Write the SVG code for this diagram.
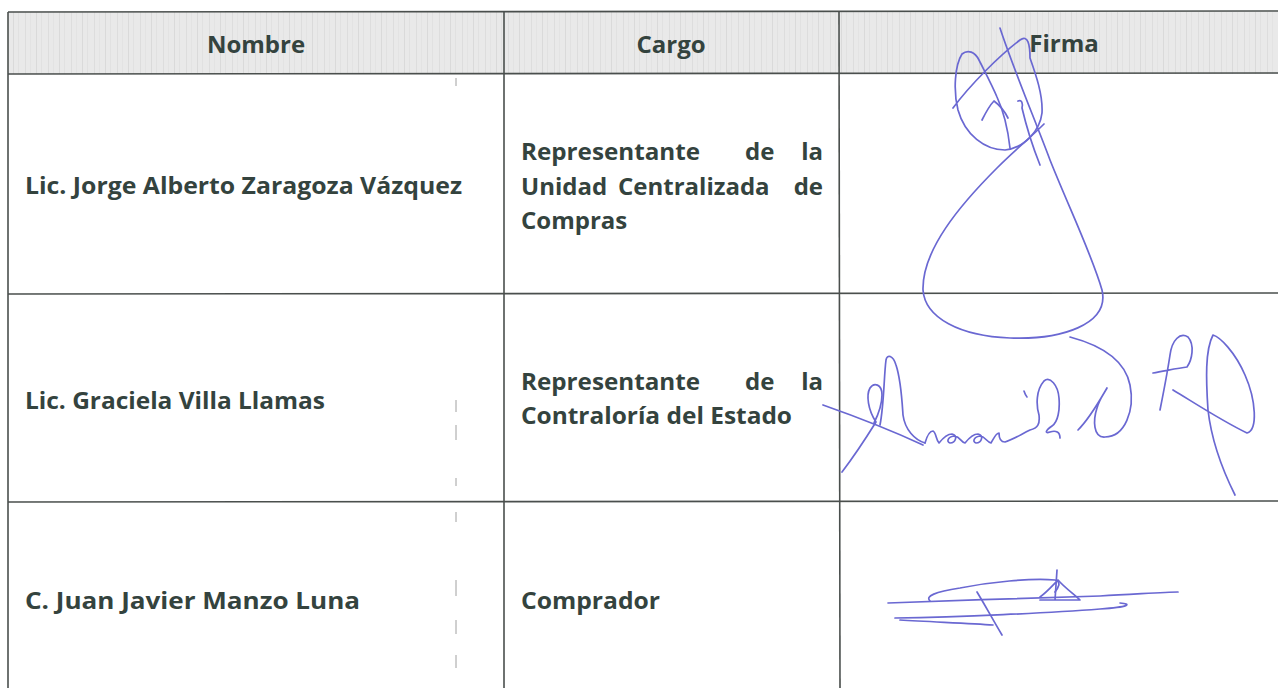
<svg xmlns="http://www.w3.org/2000/svg" width="1278" height="688" viewBox="0 0 1278 688">
<style>
.t{font-family:"Open Sans","Liberation Sans",sans-serif;font-weight:bold;font-size:24px;fill:#34433e}
.g{stroke:#4a4f4d;stroke-width:1.6;fill:none}
.s{stroke:#6a68d2;stroke-width:1.7;fill:none;stroke-linecap:round;stroke-linejoin:round}
.a{stroke:#a0a0a0;stroke-width:1;fill:none}
</style>
<defs>
<pattern id="tex" width="23" height="8" patternUnits="userSpaceOnUse">
<rect width="23" height="8" fill="#e9e9e9"/>
<line x1="2.5" y1="0" x2="2.5" y2="8" stroke="#dddddd" stroke-width="1"/>
<line x1="7.5" y1="0" x2="7.5" y2="8" stroke="#e3e3e3" stroke-width="1"/>
<line x1="13.5" y1="0" x2="13.5" y2="8" stroke="#dadada" stroke-width="1"/>
<line x1="18.5" y1="0" x2="18.5" y2="8" stroke="#e1e1e1" stroke-width="1"/>
</pattern>
</defs>
<rect width="1278" height="688" fill="#ffffff"/>
<g id="header">
<rect x="8" y="12" width="1270" height="62" fill="url(#tex)"/>
<text class="t" x="256" y="53" text-anchor="middle">Nombre</text>
<text class="t" x="671" y="53" text-anchor="middle">Cargo</text>
<text class="t" x="1064" y="52" text-anchor="middle">Firma</text>
</g>
<g id="grid">
<line class="g" x1="8" y1="12" x2="1278" y2="11"/>
<line class="g" x1="8" y1="74" x2="1278" y2="73"/>
<line class="g" x1="8" y1="294" x2="1278" y2="293"/>
<line class="g" x1="8" y1="502" x2="1278" y2="501"/>
<line class="g" x1="8" y1="12" x2="8" y2="688"/>
<line class="g" x1="504" y1="12" x2="504" y2="688"/>
<line class="g" x1="839" y1="11" x2="840" y2="688"/>
</g>
<g id="marks">
<line class="a" x1="456" y1="78" x2="456" y2="86"/>
<line class="a" x1="456" y1="400" x2="456" y2="412"/>
<line class="a" x1="456" y1="425" x2="456" y2="440"/>
<line class="a" x1="456" y1="478" x2="456" y2="486"/>
<line class="a" x1="456" y1="512" x2="456" y2="522"/>
<line class="a" x1="456" y1="580" x2="456" y2="596"/>
<line class="a" x1="456" y1="620" x2="456" y2="634"/>
<line class="a" x1="456" y1="655" x2="456" y2="668"/>
</g>
<g id="row1">
<text class="t" x="25" y="194" textLength="437" lengthAdjust="spacingAndGlyphs">Lic. Jorge Alberto Zaragoza Vázquez</text>
<text class="t" x="521" y="160" textLength="179" lengthAdjust="spacingAndGlyphs">Representante</text>
<text class="t" x="745" y="160">de</text>
<text class="t" x="823" y="160" text-anchor="end">la</text>
<text class="t" x="521" y="195">Unidad</text>
<text class="t" x="618" y="195">Centralizada</text>
<text class="t" x="823" y="195" text-anchor="end">de</text>
<text class="t" x="521" y="229">Compras</text>
</g>
<g id="row2">
<text class="t" x="25" y="409" textLength="300" lengthAdjust="spacingAndGlyphs">Lic. Graciela Villa Llamas</text>
<text class="t" x="521" y="390" textLength="179" lengthAdjust="spacingAndGlyphs">Representante</text>
<text class="t" x="745" y="390">de</text>
<text class="t" x="823" y="390" text-anchor="end">la</text>
<text class="t" x="521" y="424" textLength="271" lengthAdjust="spacingAndGlyphs">Contraloría del Estado</text>
</g>
<g id="row3">
<text class="t" x="25" y="609" textLength="335" lengthAdjust="spacingAndGlyphs">C. Juan Javier Manzo Luna</text>
<text class="t" x="521" y="609" textLength="139" lengthAdjust="spacingAndGlyphs">Comprador</text>
</g>
<g id="signatures">
<path class="s" d="M1000,28 C1012,65 1035,120 1050,160 C1070,210 1092,255 1102,290 C1110,325 1060,340 1010,338 C960,336 925,318 923,290 C922,250 960,205 997,168 C1015,150 1030,138 1044,124"/>
<path class="s" d="M953,108 C970,85 1000,55 1020,40 C1028,34 1030,45 1030,58 C1036,75 1043,95 1042,113 C1040,130 1025,148 1005,150 C985,150 965,135 958,110 C953,90 955,65 962,54 C968,49 975,52 979,60 C985,72 992,85 997,97 C1003,110 1008,130 1010,148"/>
<path class="s" d="M982,120 C986,112 990,105 994,101 C998,104 1004,110 1008,118"/>
<path class="s" d="M1018,101 C1022,99 1023,104 1022,108 C1026,125 1032,145 1040,165"/>
<path class="s" d="M1070,337 C1100,345 1125,360 1130,385 C1135,410 1125,437 1105,437 C1093,438 1093,420 1097,408 C1100,398 1105,392 1107,388 C1100,400 1090,418 1078,430"/>
<path class="s" d="M823,405 C860,418 895,432 923,445"/>
<path class="s" d="M842,472 C855,455 866,438 876,422 C868,410 866,395 870,388 C874,382 882,384 882,395 C882,405 878,415 874,423"/>
<path class="s" d="M880,425 C884,405 884,375 886,360 C887,354 893,355 896,365 C901,380 902,400 903,415 C905,430 915,440 925,443"/>
<path class="s" d="M925,443 C927,436 929,431 933,431 C936,432 936,440 939,443 C943,438 947,434 952,434 C958,435 956,443 950,443 C946,442 948,436 955,436 C960,437 961,442 965,443 C969,438 973,434 978,434 C984,435 982,443 976,443 C972,442 974,436 981,436 C985,437 987,442 991,443 C994,438 996,433 999,433 C999,438 1000,442 1005,442 C1012,440 1020,435 1030,430 C1038,428 1040,424 1039,415 C1036,405 1036,390 1044,381 C1050,376 1058,385 1059,398 C1060,410 1058,422 1052,426 C1046,430 1044,434 1050,432 C1056,430 1060,432 1060,438"/>
<path class="s" d="M1024,391 C1025,394 1026,396 1027,397"/>
<path class="s" d="M1153,373 C1165,371 1178,368 1187,367 C1192,360 1195,345 1188,337 C1180,332 1172,340 1170,355 C1167,375 1163,395 1160,410"/>
<path class="s" d="M1173,390 C1190,400 1220,420 1247,433 C1258,430 1256,400 1245,375 C1235,352 1220,337 1213,335 C1205,350 1206,380 1208,410 C1212,445 1225,475 1235,495"/>
<path class="s" d="M888,603 C950,601 1050,597 1100,596 C1140,594 1165,592 1178,592" stroke-width="1.4"/>
<path class="s" d="M895,618 C960,617 1050,613 1100,609 C1130,607 1132,604 1120,603"/>
<path class="s" d="M930,601 C925,596 935,592 960,588 C990,582 1030,578 1055,580 C1062,582 1058,588 1055,592"/>
<path class="s" d="M1057,570 L1055,600 M1040,597 C1047,592 1053,585 1058,580 C1065,588 1075,595 1080,600 L1040,600"/>
<path class="s" d="M977,592 C985,605 993,620 1002,635"/>
<path class="s" d="M900,620 C930,622 970,623 993,625"/>
</g>
</svg>
